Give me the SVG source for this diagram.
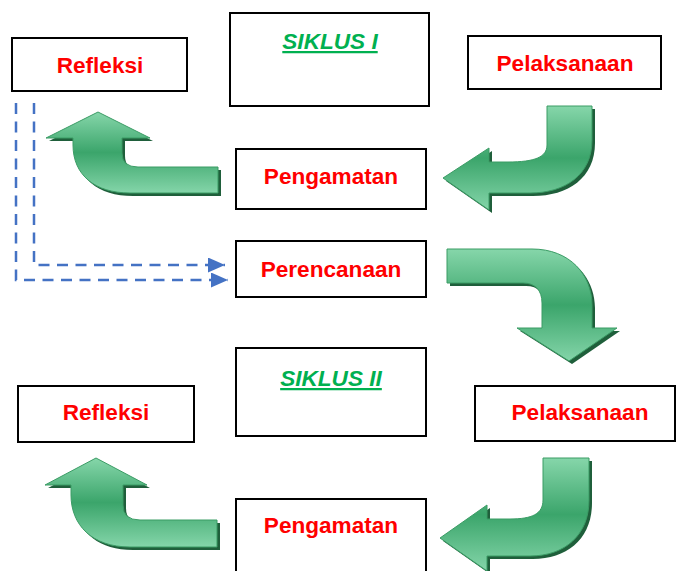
<svg xmlns="http://www.w3.org/2000/svg" width="677" height="571" viewBox="0 0 677 571">
<style>
.box{fill:#fff;stroke:#000;stroke-width:2}
.lbl{font-family:"Liberation Sans",Arial,sans-serif;font-weight:bold;font-size:22.6px;fill:#ff0000;text-anchor:middle}
.cyc{font-family:"Liberation Sans",Arial,sans-serif;font-weight:bold;font-style:italic;font-size:22.6px;fill:#00b050;text-anchor:middle;text-decoration:underline;text-decoration-thickness:2px;text-underline-offset:3px}
.dash{fill:none;stroke:#4472c4;stroke-width:2.5;stroke-dasharray:11,7.5}
.arw{fill:url(#g);stroke:#3b9c65;stroke-width:1}
.shd{fill:#1f5f3b}
</style>
<defs>
<linearGradient id="g" x1="0" y1="0" x2="0" y2="1">
<stop offset="0" stop-color="#86d6aa"/>
<stop offset="0.5" stop-color="#3ba56b"/>
<stop offset="1" stop-color="#84d5a9"/>
</linearGradient>
<marker id="ah" markerUnits="userSpaceOnUse" markerWidth="18" markerHeight="16" refX="17" refY="7.5" orient="auto">
<path d="M0,0 L17,7.5 L0,15 Z" fill="#4472c4"/>
</marker>
</defs>

<g id="connectors">
<path class="dash" d="M34,103 V265 H225" marker-end="url(#ah)"/>
<path class="dash" d="M16,103 V280 H228" marker-end="url(#ah)"/>

<g id="arrow1">
<path class="shd" transform="translate(3,3)" d="M98,112 L150,138 L122,138 L122,153 Q122,167 138,167 L218,167 L218,193 L130,193 C95,193 73,175 73,145 L73,138 L46,138 Z"/>
<path class="arw" d="M98,112 L150,138 L122,138 L122,153 Q122,167 138,167 L218,167 L218,193 L130,193 C95,193 73,175 73,145 L73,138 L46,138 Z"/>
</g>
<g id="arrow2">
<path class="shd" transform="translate(3,3)" d="M547,106 L547,145 C547,157 535,162 508,162 L489,162 L489,148 L443,178 L489,210 L489,193 L530,193 C565,193 592,175 592,140 L592,106 Z"/>
<path class="arw" d="M547,106 L547,145 C547,157 535,162 508,162 L489,162 L489,148 L443,178 L489,210 L489,193 L530,193 C565,193 592,175 592,140 L592,106 Z"/>
</g>
<g id="arrow3">
<path class="shd" transform="translate(3,3)" d="M447,249 L532,249 C570,249 592,275 592,305 L592,328 L617,328 L569,361 L517,328 L542,328 L542,303 C542,290 535,283 523,283 L447,283 Z"/>
<path class="arw" d="M447,249 L532,249 C570,249 592,275 592,305 L592,328 L617,328 L569,361 L517,328 L542,328 L542,303 C542,290 535,283 523,283 L447,283 Z"/>
</g>
<g id="arrow4">
<path class="shd" transform="translate(3,3)" d="M96,458 L147,485 L123,485 L123,505 Q123,520 140,520 L217,520 L217,547 L130,547 C92,547 71,525 71,495 L71,485 L45,485 Z"/>
<path class="arw" d="M96,458 L147,485 L123,485 L123,505 Q123,520 140,520 L217,520 L217,547 L130,547 C92,547 71,525 71,495 L71,485 L45,485 Z"/>
</g>
<g id="arrow5">
<path class="shd" transform="translate(3,3)" d="M543,458 L543,500 C543,514 532,519 510,519 L487,519 L487,505 L440,538 L487,571 L487,556 L530,556 C565,556 589,535 589,500 L589,458 Z"/>
<path class="arw" d="M543,458 L543,500 C543,514 532,519 510,519 L487,519 L487,505 L440,538 L487,571 L487,556 L530,556 C565,556 589,535 589,500 L589,458 Z"/>
</g>
</g>

<g id="siklus1">
<rect class="box" x="230" y="13" width="199" height="93"/>
<text class="cyc" x="330" y="49">SIKLUS I</text>
</g>
<g id="refleksi1">
<rect class="box" x="12" y="38" width="175" height="53"/>
<text class="lbl" x="100" y="73">Refleksi</text>
</g>
<g id="pelaksanaan1">
<rect class="box" x="468" y="36" width="193" height="53"/>
<text class="lbl" x="565" y="71">Pelaksanaan</text>
</g>
<g id="pengamatan1">
<rect class="box" x="236" y="149" width="190" height="60"/>
<text class="lbl" x="331" y="184">Pengamatan</text>
</g>
<g id="perencanaan">
<rect class="box" x="236" y="241" width="190" height="56"/>
<text class="lbl" x="331" y="277">Perencanaan</text>
</g>
<g id="siklus2">
<rect class="box" x="236" y="348" width="190" height="88"/>
<text class="cyc" x="331" y="386">SIKLUS II</text>
</g>
<g id="refleksi2">
<rect class="box" x="18" y="386" width="176" height="56"/>
<text class="lbl" x="106" y="420">Refleksi</text>
</g>
<g id="pelaksanaan2">
<rect class="box" x="475" y="386" width="200" height="55"/>
<text class="lbl" x="580" y="420">Pelaksanaan</text>
</g>
<g id="pengamatan2">
<rect class="box" x="236" y="499" width="190" height="80"/>
<text class="lbl" x="331" y="533">Pengamatan</text>
</g>
</svg>
